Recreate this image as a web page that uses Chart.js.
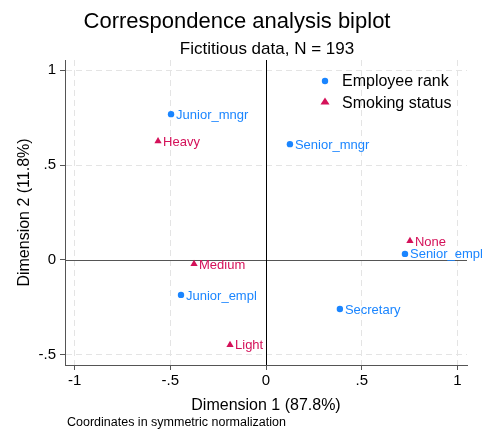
<!DOCTYPE html>
<html>
<head>
<meta charset="utf-8">
<script src="https://cdn.jsdelivr.net/npm/chart.js@4"></script>
<style>
  html, body { margin: 0; padding: 0; background: #fff; }
  #wrap { width: 483px; height: 431px; }
</style>
</head>
<body>
<div id="wrap"><canvas id="biplot" width="483" height="431"></canvas></div>
<script>
// Row categories (employee rank)
const rankLabels = ['Junior_mngr', 'Senior_mngr', 'Senior_empl', 'Junior_empl', 'Secretary'];
const rankX = [-0.496, 0.125, 0.726, -0.444, 0.386];
const rankY = [0.768, 0.610, 0.032, -0.184, -0.258];

// Column categories (smoking status)
const smokeLabels = ['Heavy', 'None', 'Medium', 'Light'];
const smokeX = [-0.564, 0.752, -0.376, -0.188];
const smokeY = [0.626, 0.100, -0.021, -0.447];

const tickVals = [-1, -0.5, 0, 0.5, 1];
const yTickVals = [-0.5, 0, 0.5, 1];

const FONT = "'Liberation Sans', Arial, sans-serif";
const BLUE = '#1a85ff';
const PINK = '#d41159';

const fmt = v => {
  if (v === 0) return '0';
  if (v === 1 || v === -1) return String(v);
  return (v < 0 ? '-' : '') + '.5';
};

// point labels, zero lines, titles, legend
const extras = {
  id: 'extras',
  beforeDatasetsDraw(chart) {
    const { ctx, chartArea: a, scales: { x, y } } = chart;
    ctx.save();
    ctx.lineWidth = 1;
    ctx.strokeStyle = '#555';
    const y0 = Math.round(y.getPixelForValue(0)) + 0.5;
    ctx.beginPath(); ctx.moveTo(a.left, y0); ctx.lineTo(a.right, y0); ctx.stroke();
    ctx.strokeStyle = '#000';
    const x0 = Math.round(x.getPixelForValue(0)) + 0.5;
    ctx.beginPath(); ctx.moveTo(x0, a.top); ctx.lineTo(x0, a.bottom); ctx.stroke();
    ctx.restore();
  },
  afterDatasetsDraw(chart) {
    const { ctx } = chart;
    ctx.save();
    ctx.font = '13px ' + FONT;
    ctx.textBaseline = 'middle';
    ctx.textAlign = 'left';
    const groups = [[0, rankLabels, BLUE], [1, smokeLabels, PINK]];
    groups.forEach(([di, labels, col]) => {
      ctx.fillStyle = col;
      chart.getDatasetMeta(di).data.forEach((pt, i) => {
        ctx.fillText(labels[i], pt.x + 5, pt.y + 1);
      });
    });
    ctx.restore();
  },
  afterDraw(chart) {
    const { ctx } = chart;
    ctx.save();
    ctx.fillStyle = '#000';
    ctx.textAlign = 'center';
    ctx.textBaseline = 'alphabetic';
    ctx.font = '22px ' + FONT;
    ctx.fillText('Correspondence analysis biplot', 237, 28);
    ctx.font = '17px ' + FONT;
    ctx.fillText('Fictitious data, N = 193', 267, 54);

    // legend
    ctx.font = '16px ' + FONT;
    ctx.textAlign = 'left';
    ctx.textBaseline = 'middle';
    ctx.fillText('Employee rank', 342, 82);
    ctx.fillText('Smoking status', 342, 104);
    ctx.fillStyle = BLUE;
    ctx.beginPath(); ctx.arc(325, 81, 3.2, 0, Math.PI * 2); ctx.fill();
    ctx.fillStyle = PINK;
    ctx.beginPath();
    ctx.moveTo(325, 97.5); ctx.lineTo(329.5, 104.5); ctx.lineTo(320.5, 104.5);
    ctx.closePath(); ctx.fill();

    // note
    ctx.fillStyle = '#000';
    ctx.font = '12.5px ' + FONT;
    ctx.textBaseline = 'alphabetic';
    ctx.fillText('Coordinates in symmetric normalization', 67, 426);
    ctx.restore();
  }
};

const gridColor = c => (c.tick && c.tick.value === 0) ? 'rgba(0,0,0,0)' : '#e4e4e4';

new Chart(document.getElementById('biplot'), {
  type: 'scatter',
  data: {
    datasets: [
      {
        label: 'Employee rank',
        data: rankX.map((v, i) => ({ x: v, y: rankY[i] })),
        pointStyle: 'circle',
        pointRadius: 3.2,
        backgroundColor: BLUE,
        borderWidth: 0
      },
      {
        label: 'Smoking status',
        data: smokeX.map((v, i) => ({ x: v, y: smokeY[i] })),
        pointStyle: 'triangle',
        pointRadius: 4.2,
        backgroundColor: PINK,
        borderWidth: 0
      }
    ]
  },
  options: {
    responsive: false,
    animation: false,
    layout: { padding: { top: 60, right: 16, left: 0, bottom: 0 } },
    plugins: { legend: { display: false }, tooltip: { enabled: false } },
    scales: {
      x: {
        type: 'linear',
        min: -1.05, max: 1.05,
        afterBuildTicks: s => { s.ticks = tickVals.map(v => ({ value: v })); },
        afterFit: s => { s.height = 66; },
        ticks: { callback: v => fmt(v), color: '#000', font: { family: FONT, size: 15 }, padding: 2, maxRotation: 0 },
        grid: { color: gridColor, tickColor: '#555', tickLength: 5, drawTicks: true },
        border: { color: '#555', dash: [6, 4] },
        title: { display: true, text: 'Dimension 1 (87.8%)', color: '#000', font: { family: FONT, size: 16 }, padding: { top: 0, bottom: 16 } }
      },
      y: {
        type: 'linear',
        min: -0.553, max: 1.053,
        afterBuildTicks: s => { s.ticks = yTickVals.map(v => ({ value: v })); },
        afterFit: s => { s.width = 65; },
        ticks: { callback: v => fmt(v), color: '#000', font: { family: FONT, size: 15 }, padding: 4 },
        grid: { color: gridColor, tickColor: '#555', tickLength: 5, drawTicks: true },
        border: { color: '#555', dash: [6, 4] },
        title: { display: true, text: 'Dimension 2 (11.8%)', color: '#000', font: { family: FONT, size: 16 }, padding: { top: 15, bottom: 0 } }
      }
    }
  },
  plugins: [extras]
});
</script>
</body>
</html>
